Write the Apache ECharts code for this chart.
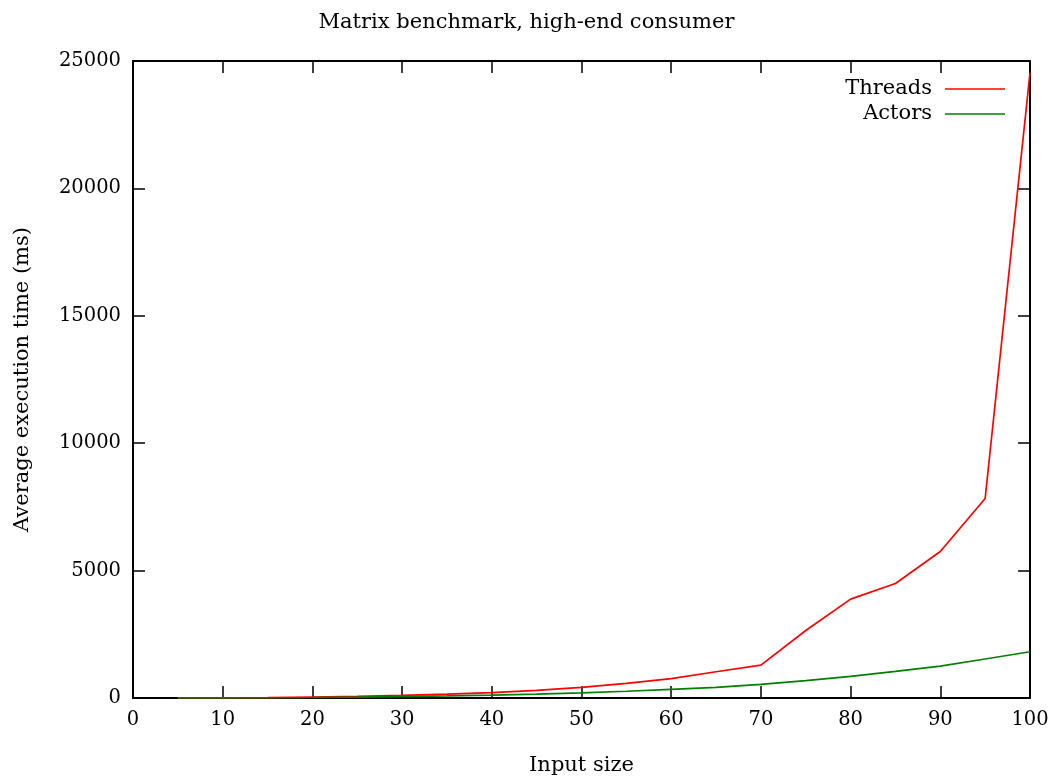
<!DOCTYPE html>
<html>
<head>
<meta charset="utf-8">
<script src="https://cdn.jsdelivr.net/npm/echarts@6/dist/echarts.min.js"></script>
<style>
  html, body { margin: 0; padding: 0; background: #fff; }
  #chart { width: 1053px; height: 781px; }
</style>
</head>
<body>
<div id="chart"></div>
<script>
// Input sizes and average execution times (ms)
const inputSizes = [5, 10, 15, 20, 25, 30, 35, 40, 45, 50, 55, 60, 65, 70, 75, 80, 85, 90, 95, 100];
const threadsMs = [1, 5, 15, 35, 60, 100, 150, 210, 300, 420, 576, 760, 1030, 1290, 2650, 3880, 4496, 5750, 7830, 24540];
const actorsMs  = [1, 4, 10, 20, 35, 55, 80, 110, 150, 205, 265, 340, 420, 537, 680, 850, 1045, 1254, 1530, 1815];
const seriesNames = ['Threads', 'Actors'];
const seriesColors = ['#ff0000', '#008000'];

const font = 'DejaVu Serif';
const pair = (xs, ys) => xs.map((x, i) => [x, ys[i]]);

const chart = echarts.init(document.getElementById('chart'), null, { renderer: 'canvas' });

const frameLine = { show: true, onZero: false, lineStyle: { color: '#000', width: 2 } };
const tickIn = { show: true, inside: true, length: 12, lineStyle: { color: '#000', width: 1.5 } };
const txt = { fontFamily: font, fontSize: 21, color: '#000' };
const tickTxt = { fontFamily: font, fontSize: 19.5, color: '#000' };

chart.setOption({
  animation: false,
  backgroundColor: '#ffffff',
  title: {
    text: 'Matrix benchmark, high-end consumer',
    left: 'center',
    top: 7,
    textStyle: Object.assign({ fontWeight: 'normal' }, txt)
  },
  legend: {
    orient: 'vertical',
    right: 43,
    top: 72,
    align: 'right',
    icon: 'rect',
    itemWidth: 60,
    itemHeight: 1.5,
    itemGap: 1,
    textStyle: Object.assign({ padding: [0, 8, 0, 0], lineHeight: 24 }, txt),
    data: seriesNames
  },
  grid: { left: 133, right: 23, top: 61, bottom: 81, show: false },
  xAxis: [
    {
      type: 'value', min: 0, max: 100, interval: 10, position: 'bottom',
      name: 'Input size', nameLocation: 'middle', nameGap: 57,
      nameTextStyle: txt,
      axisLine: frameLine, axisTick: tickIn,
      axisLabel: Object.assign({ margin: 12 }, tickTxt),
      splitLine: { show: false }
    },
    {
      type: 'value', min: 0, max: 100, interval: 10, position: 'top',
      axisLine: frameLine, axisTick: tickIn,
      axisLabel: { show: false }, splitLine: { show: false }
    }
  ],
  yAxis: [
    {
      type: 'value', min: 0, max: 25000, interval: 5000, position: 'left',
      name: 'Average execution time (ms)', nameLocation: 'middle', nameGap: 100, nameRotate: 90,
      nameTextStyle: txt,
      axisLine: frameLine, axisTick: tickIn,
      axisLabel: Object.assign({ margin: 12, formatter: v => String(v) }, tickTxt),
      splitLine: { show: false }
    },
    {
      type: 'value', min: 0, max: 25000, interval: 5000, position: 'right',
      axisLine: frameLine, axisTick: tickIn,
      axisLabel: { show: false }, splitLine: { show: false }
    }
  ],
  series: [
    {
      name: seriesNames[0], type: 'line', data: pair(inputSizes, threadsMs),
      symbol: 'none', color: seriesColors[0],
      lineStyle: { width: 1.7, color: seriesColors[0] }
    },
    {
      name: seriesNames[1], type: 'line', data: pair(inputSizes, actorsMs),
      symbol: 'none', color: seriesColors[1],
      lineStyle: { width: 1.7, color: seriesColors[1] }
    }
  ]
});
</script>
</body>
</html>
